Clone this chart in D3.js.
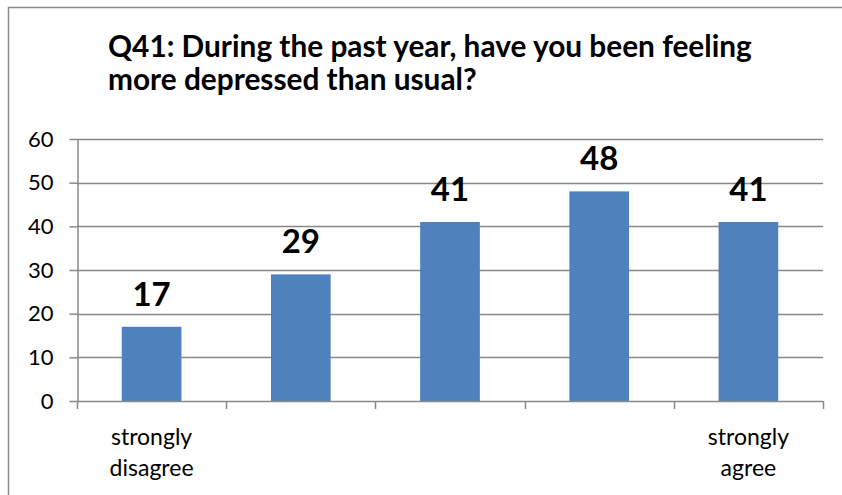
<!DOCTYPE html>
<html>
<head>
<meta charset="utf-8">
<script src="https://cdn.jsdelivr.net/npm/d3@7"></script>
<style>
  html, body { margin: 0; padding: 0; background: #fff; }
  svg { display: block; }
  text { font-family: Lato, "Open Sans", sans-serif; }
</style>
</head>
<body>
<svg id="chart" width="842" height="495"></svg>
<script>
const titleLines = ["Q41: During the past year, have you been feeling", "more depressed than usual?"];
const categories = ["1", "2", "3", "4", "5"];
const categoryLabels = [["strongly", "disagree"], [], [], [], ["strongly", "agree"]];
const values = [17, 29, 41, 48, 41];
const yTicks = [0, 10, 20, 30, 40, 50, 60];

(function () {
const svg = d3.select("#chart");
const W = 842, H = 495;
const pL = 77, pR = 823, pT = 139, pB = 401;

svg.append("rect").attr("width", W).attr("height", H).attr("fill", "#fff");
svg.append("rect").attr("x", 8.5).attr("y", 7.5).attr("width", W + 10).attr("height", H + 10)
  .attr("fill", "none").attr("stroke", "#8c8c8c").attr("stroke-width", 1.5);

// Title
const title = svg.append("g");
title.selectAll("text").data(titleLines).join("text")
  .attr("x", 108).attr("y", (d, i) => 57 + i * 33)
  .attr("font-size", 25).attr("font-weight", "bold").attr("fill", "#000")
  .text(d => d);
const t0 = title.select("text").node();
const w0 = t0.getComputedTextLength();
const fs = 25 * 644 / w0;
title.selectAll("text").attr("font-size", fs);

const x = d3.scaleBand().domain(categories).range([pL, pR]).paddingInner(0.6).paddingOuter(0.3);
const y = d3.scaleLinear().domain([0, 60]).range([pB, pT]);

// gridlines
svg.append("g").selectAll("line").data(yTicks.filter(d => d > 0)).join("line")
  .attr("x1", pL).attr("x2", pR)
  .attr("y1", d => Math.round(y(d)) + 0.5).attr("y2", d => Math.round(y(d)) + 0.5)
  .attr("stroke", "#888").attr("stroke-width", 1.5);

// y axis
const yAxis = svg.append("g").attr("transform", `translate(${pL + 0.5},0)`)
  .call(d3.axisLeft(y).tickValues(yTicks).tickSize(8).tickSizeOuter(0).tickPadding(16));
yAxis.select(".domain").attr("stroke", "#888").attr("stroke-width", 1.5);
yAxis.selectAll(".tick line").attr("stroke", "#888").attr("stroke-width", 1.5);
yAxis.selectAll(".tick text").attr("font-size", 22).attr("fill", "#000")
  .attr("font-family", "Lato, sans-serif");

// bars
svg.append("g").selectAll("rect").data(values).join("rect")
  .attr("x", (d, i) => x(categories[i]))
  .attr("width", x.bandwidth())
  .attr("y", d => y(d))
  .attr("height", d => y(0) - y(d))
  .attr("fill", "#4F81BD");

// x axis baseline and ticks
const step = x.step();
const boundaries = d3.range(categories.length + 1).map(i => pL + i * step);
const xg = svg.append("g");
xg.append("line").attr("x1", pL).attr("x2", pR)
  .attr("y1", pB + 0.5).attr("y2", pB + 0.5)
  .attr("stroke", "#888").attr("stroke-width", 1.5);
xg.selectAll("line.tk").data(boundaries).join("line").attr("class", "tk")
  .attr("x1", d => Math.round(d) + 0.5).attr("x2", d => Math.round(d) + 0.5)
  .attr("y1", pB).attr("y2", pB + 8)
  .attr("stroke", "#888").attr("stroke-width", 1.5);

// category labels
categories.forEach((c, i) => {
  const cx = x(c) + x.bandwidth() / 2;
  categoryLabels[i].forEach((ln, j) => {
    svg.append("text").attr("x", cx).attr("y", 445 + j * 31)
      .attr("text-anchor", "middle").attr("font-size", 23).attr("fill", "#000")
      .text(ln);
  });
});

// value labels
svg.append("g").selectAll("text").data(values).join("text")
  .attr("x", (d, i) => x(categories[i]) + x.bandwidth() / 2)
  .attr("y", d => y(d) - 21)
  .attr("text-anchor", "middle").attr("font-size", 33).attr("font-weight", "bold")
  .attr("fill", "#000")
  .text(d => d);
})();
</script>
</body>
</html>
